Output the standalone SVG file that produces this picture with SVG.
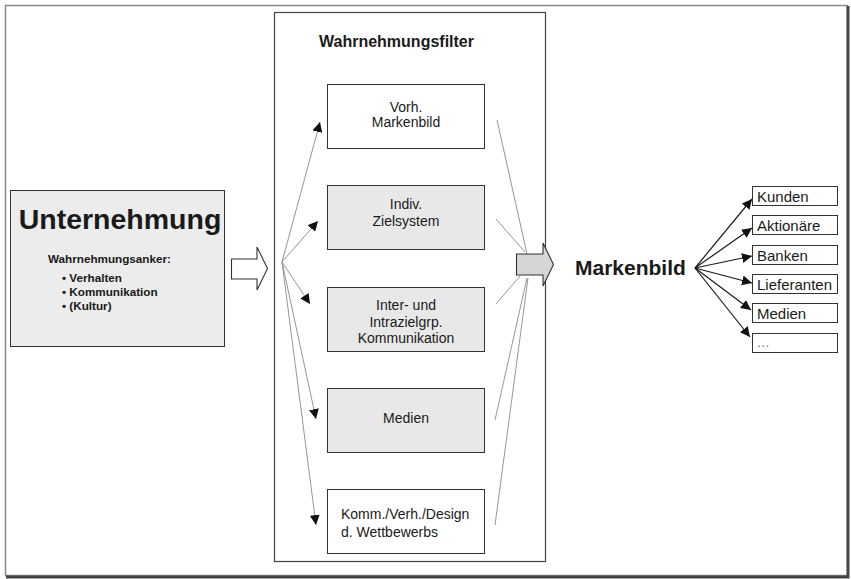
<svg xmlns="http://www.w3.org/2000/svg" width="851" height="579" viewBox="0 0 851 579">
<defs>
<style>
text{font-family:"Liberation Sans",Arial,sans-serif;fill:#1a1a1a}
.b{font-weight:bold}
.box{stroke:#333;stroke-width:1}
.g{fill:#e8e8e8}
.w{fill:#fff}
.fan{stroke:#8a8a8a;stroke-width:0.9;fill:none}
.rf{stroke:#1a1a1a;stroke-width:1.2;fill:none}
.ctr{text-anchor:middle;font-size:14px}
.lst{font-size:15px}
</style>
<marker id="ah" viewBox="0 0 10 10" refX="10" refY="5" markerWidth="10" markerHeight="10" markerUnits="userSpaceOnUse" orient="auto">
<path d="M0,0 L10,5 L0,10 Z" fill="#111"/>
</marker>
<marker id="ah2" viewBox="0 0 10 10" refX="10" refY="5" markerWidth="10" markerHeight="10" markerUnits="userSpaceOnUse" orient="auto">
<path d="M0,0 L10,5 L0,10 Z" fill="#111"/>
</marker>
</defs>
<rect x="0" y="0" width="851" height="579" fill="#fff"/>
<g id="frame">
<rect x="5.5" y="5.5" width="842" height="570" fill="none" stroke="#8a8a8a" stroke-width="1.5"/>
<path d="M848,6 V577 H6" fill="none" stroke="#444" stroke-width="3"/>
</g>
<g id="unternehmung">
<rect class="box" x="10.5" y="190.5" width="214" height="156" fill="#ececec"/>
<text class="b" x="120" y="229" font-size="28.5" text-anchor="middle">Unternehmung</text>
<text class="b" x="48" y="263" font-size="11.7">Wahrnehmungsanker:</text>
<text class="b" x="62" y="282" font-size="11.7">•  Verhalten</text>
<text class="b" x="62" y="296" font-size="11.7">•  Kommunikation</text>
<text class="b" x="62" y="310" font-size="11.7">•  (Kultur)</text>
</g>
<g id="hollow-arrow">
<polygon points="231.5,259 257,259 257,247 267.5,268.5 257,290 257,279 231.5,279" fill="#fff" stroke="#333" stroke-width="1.1"/>
</g>
<g id="filter">
<rect x="274.5" y="12.5" width="271" height="549" fill="#fff" stroke="#444" stroke-width="1.2"/>
<text class="b" x="319" y="47" font-size="16">Wahrnehmungsfilter</text>
</g>
<g id="f1">
<rect class="box w" x="327.5" y="84.5" width="157" height="64"/>
<text class="ctr" x="406" y="112">Vorh.</text>
<text class="ctr" x="406" y="127">Markenbild</text>
</g>
<g id="f2">
<rect class="box g" x="327.5" y="185.5" width="157" height="64"/>
<text class="ctr" x="406" y="209">Indiv.</text>
<text class="ctr" x="406" y="225.5">Zielsystem</text>
</g>
<g id="f3">
<rect class="box g" x="327.5" y="287.5" width="157" height="64"/>
<text class="ctr" x="406" y="309.5">Inter- und</text>
<text class="ctr" x="406" y="326.5">Intrazielgrp.</text>
<text class="ctr" x="406" y="343">Kommunikation</text>
</g>
<g id="f4">
<rect class="box g" x="327.5" y="388.5" width="157" height="64"/>
<text class="ctr" x="406" y="423">Medien</text>
</g>
<g id="f5">
<rect class="box w" x="327.5" y="489.5" width="157" height="64"/>
<text x="341" y="519" font-size="14">Komm./Verh./Design</text>
<text x="341" y="536.5" font-size="14">d. Wettbewerbs</text>
</g>
<g id="connectors">
<line class="fan" x1="282" y1="262" x2="320" y2="122" marker-end="url(#ah)"/>
<line class="fan" x1="282" y1="262" x2="318" y2="221" marker-end="url(#ah)"/>
<line class="fan" x1="282" y1="262" x2="310" y2="304" marker-end="url(#ah)"/>
<line class="fan" x1="282" y1="262" x2="316" y2="419" marker-end="url(#ah)"/>
<line class="fan" x1="282" y1="262" x2="316" y2="525" marker-end="url(#ah)"/>
<line class="fan" x1="497" y1="120" x2="527" y2="254"/>
<line class="fan" x1="496" y1="219" x2="525" y2="252"/>
<line class="fan" x1="496" y1="304" x2="520" y2="276"/>
<line class="fan" x1="495" y1="420" x2="527" y2="278"/>
<line class="fan" x1="495" y1="525" x2="528" y2="278"/>
<line class="rf" x1="695" y1="268" x2="752" y2="199" marker-end="url(#ah2)"/>
<line class="rf" x1="695" y1="268" x2="752" y2="228" marker-end="url(#ah2)"/>
<line class="rf" x1="695" y1="268" x2="752" y2="256" marker-end="url(#ah2)"/>
<line class="rf" x1="695" y1="268" x2="752" y2="283" marker-end="url(#ah2)"/>
<line class="rf" x1="695" y1="268" x2="751" y2="310" marker-end="url(#ah2)"/>
<line class="rf" x1="695" y1="268" x2="750" y2="337" marker-end="url(#ah2)"/>
</g>
<g id="gray-arrow">
<polygon points="516.5,254 543,254 543,243 553.5,264.5 543,286 543,275 516.5,275" fill="#d6d6d6" stroke="#333" stroke-width="1.1"/>
</g>
<g id="markenbild">
<text class="b" x="575" y="275" font-size="21">Markenbild</text>
</g>
<g id="kunden"><rect class="box w" x="752.5" y="186.5" width="85" height="19"/><text class="lst" x="757" y="201.5">Kunden</text></g>
<g id="aktionaere"><rect class="box w" x="752.5" y="215.5" width="85" height="19"/><text class="lst" x="757" y="230.5">Aktionäre</text></g>
<g id="banken"><rect class="box w" x="752.5" y="245.5" width="85" height="19"/><text class="lst" x="757" y="260.5">Banken</text></g>
<g id="lieferanten"><rect class="box w" x="752.5" y="274.5" width="85" height="19"/><text class="lst" x="757" y="289.5">Lieferanten</text></g>
<g id="medien"><rect class="box w" x="752.5" y="303.5" width="85" height="19"/><text class="lst" x="757" y="318.5">Medien</text></g>
<g id="etc"><rect class="box w" x="752.5" y="333.5" width="85" height="19"/><text class="lst" x="757" y="347" style="fill:#888">...</text></g>
</svg>
